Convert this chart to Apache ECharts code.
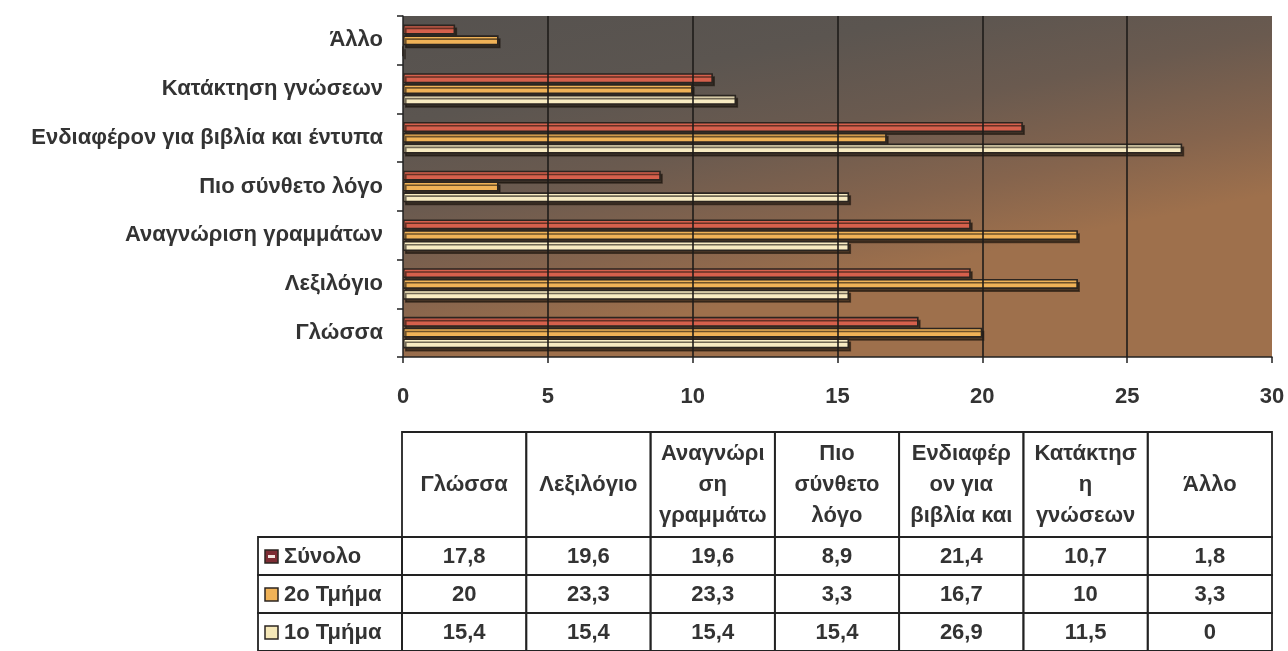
<!DOCTYPE html>
<html>
<head>
<meta charset="utf-8">
<script src="https://cdn.jsdelivr.net/npm/echarts@6/dist/echarts.min.js"></script>
<style>
  html, body { margin: 0; padding: 0; background: #ffffff; }
  #chart { width: 1288px; height: 651px; }
</style>
</head>
<body>
<div id="chart"></div>
<script>
// ---- data ----
const categories = ['Γλώσσα', 'Λεξιλόγιο', 'Αναγνώριση γραμμάτων', 'Πιο σύνθετο λόγο', 'Ενδιαφέρον για βιβλία και έντυπα', 'Κατάκτηση γνώσεων', 'Άλλο'];
const tableHeaders = ['Γλώσσα', 'Λεξιλόγιο', 'Αναγνώρι\nση\nγραμμάτω', 'Πιο\nσύνθετο\nλόγο', 'Ενδιαφέρ\nον για\nβιβλία και', 'Κατάκτησ\nη\nγνώσεων', 'Άλλο'];
const seriesNames = ['Σύνολο', '2ο Τμήμα', '1ο Τμήμα'];
const synolo = [17.8, 19.6, 19.6, 8.9, 21.4, 10.7, 1.8];
const tmima2 = [20, 23.3, 23.3, 3.3, 16.7, 10, 3.3];
const tmima1 = [15.4, 15.4, 15.4, 15.4, 26.9, 11.5, 0];
const gridValues = [5, 10, 15, 20, 25];

const barColors = ['#d6604c', '#f0b257', '#f8ebc2'];
const iconColors = ['#7d2c33', '#f0b257', '#f6e8b8'];
const allSeries = [synolo, tmima2, tmima1];

const chart = echarts.init(document.getElementById('chart'));
const FONT = '"Liberation Sans", Arial, sans-serif';
const FS = 22;

const fmt = v => String(v).replace('.', ',');

const headerData = tableHeaders.map((h, i) => [i, 0]);
const cellData = [];
allSeries.forEach((arr, r) => arr.forEach((v, c) => cellData.push([c, r, v])));

const barSeries = allSeries.map((arr, i) => ({
  type: 'bar',
  name: seriesNames[i],
  xAxisIndex: 0, yAxisIndex: 0,
  data: arr,
  barWidth: 10,
  barGap: '8%',
  z: 3,
  itemStyle: {
    color: barColors[i],
    borderColor: '#2b2520',
    borderWidth: 1.6,
    shadowColor: 'rgba(25,18,12,0.6)',
    shadowOffsetX: 2,
    shadowOffsetY: 3
  }
}));

const option = {
  backgroundColor: '#ffffff',
  animation: false,
  grid: [
    {
      left: 403, width: 869, top: 16, height: 341,
      show: true, borderWidth: 0,
      backgroundColor: {
        type: 'linear', x: 0, y: 0, x2: 0.08, y2: 1,
        colorStops: [
          { offset: 0, color: '#56524f' },
          { offset: 0.3, color: '#5b5550' },
          { offset: 0.55, color: '#6a5a4f' },
          { offset: 0.8, color: '#85644d' },
          { offset: 1, color: '#9e704c' }
        ]
      }
    },
    { left: 402, width: 870, top: 432, height: 105 },
    { left: 402, width: 870, top: 537, height: 114 }
  ],
  xAxis: [
    {
      gridIndex: 0, type: 'value', min: 0, max: 30, interval: 5,
      axisLine: { show: true, lineStyle: { color: '#222', width: 1.5 } },
      axisTick: { show: true, length: 6, lineStyle: { color: '#222', width: 1.5 } },
      axisLabel: { margin: 29, color: '#333', fontFamily: FONT, fontWeight: 'bold', fontSize: FS },
      splitLine: { show: false }
    },
    { gridIndex: 1, type: 'category', data: tableHeaders, show: false },
    { gridIndex: 2, type: 'category', data: tableHeaders, show: false }
  ],
  yAxis: [
    {
      gridIndex: 0, type: 'category', data: categories,
      axisLine: { show: true, lineStyle: { color: '#222', width: 1.5 } },
      axisTick: { show: true, length: 6, lineStyle: { color: '#222', width: 1.5 } },
      axisLabel: { margin: 20, color: '#333', fontFamily: FONT, fontWeight: 'bold', fontSize: FS }
    },
    { gridIndex: 1, type: 'category', data: ['h'], show: false },
    { gridIndex: 2, type: 'category', data: seriesNames, inverse: true, show: false }
  ],
  series: [
    {
      type: 'line', xAxisIndex: 0, yAxisIndex: 0, data: [], z: 1,
      markLine: {
        silent: true, symbol: 'none', label: { show: false },
        lineStyle: { color: '#1f1c1a', width: 1.6, type: 'solid' },
        data: gridValues.map(v => ({ xAxis: v }))
      }
    },
    ...barSeries,
    {
      type: 'custom', xAxisIndex: 1, yAxisIndex: 1, data: headerData, clip: false,
      renderItem: (params, api) => {
        const c = api.coord([api.value(0), api.value(1)]);
        const s = api.size([1, 1]);
        return {
          type: 'group',
          children: [
            { type: 'rect', shape: { x: c[0] - s[0] / 2, y: c[1] - s[1] / 2, width: s[0], height: s[1] },
              style: { fill: null, stroke: '#222', lineWidth: 1.8 } },
            { type: 'text', x: c[0], y: c[1],
              style: { text: tableHeaders[api.value(0)], fill: '#333', font: 'bold ' + FS + 'px ' + FONT,
                       align: 'center', verticalAlign: 'middle', lineHeight: 31 } }
          ]
        };
      }
    },
    {
      type: 'custom', xAxisIndex: 2, yAxisIndex: 2, data: cellData, clip: false,
      renderItem: (params, api) => {
        const col = api.value(0), row = api.value(1);
        const c = api.coord([col, row]);
        const s = api.size([1, 1]);
        const x0 = c[0] - s[0] / 2, y0 = c[1] - s[1] / 2;
        const children = [
          { type: 'rect', shape: { x: x0, y: y0, width: s[0], height: s[1] },
            style: { fill: null, stroke: '#222', lineWidth: 1.8 } },
          { type: 'text', x: c[0], y: c[1] + 1,
            style: { text: fmt(api.value(2)), fill: '#333', font: 'bold ' + FS + 'px ' + FONT,
                     align: 'center', verticalAlign: 'middle' } }
        ];
        if (col === 0) {
          const lw = 144;
          children.push(
            { type: 'rect', shape: { x: x0 - lw, y: y0, width: lw, height: s[1] },
              style: { fill: null, stroke: '#222', lineWidth: 1.8 } },
            { type: 'rect', shape: { x: x0 - lw + 7, y: c[1] - 6, width: 13, height: 13 },
              style: { fill: iconColors[row], stroke: '#2b2520', lineWidth: 1.5 } },
            { type: 'text', x: x0 - lw + 26, y: c[1] + 1,
              style: { text: seriesNames[row], fill: '#333', font: 'bold ' + FS + 'px ' + FONT,
                       align: 'left', verticalAlign: 'middle' } }
          );
          if (row === 0) {
            children.push({ type: 'rect', shape: { x: x0 - lw + 10, y: c[1] - 1, width: 7, height: 3 },
              style: { fill: '#f3e6e0' } });
          }
        }
        return { type: 'group', children };
      }
    }
  ]
};
chart.setOption(option);
</script>
</body>
</html>
